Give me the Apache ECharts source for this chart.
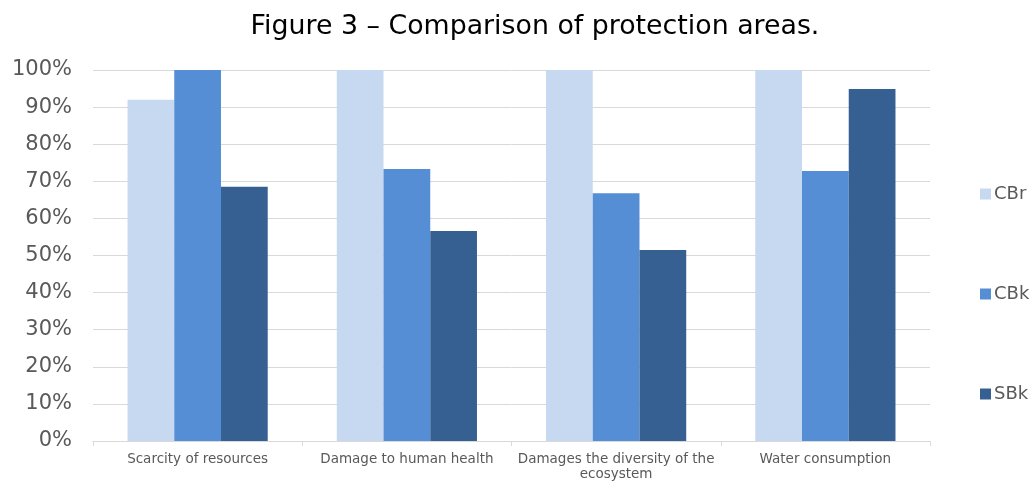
<!DOCTYPE html>
<html>
<head>
<meta charset="utf-8">
<script src="https://cdn.jsdelivr.net/npm/echarts@6/dist/echarts.min.js"></script>
<style>
  html, body { margin: 0; padding: 0; background: #fff; }
  #chart { width: 1032px; height: 482px; }
</style>
</head>
<body>
<div id="chart"></div>
<script>
const categories = ['Scarcity of resources', 'Damage to human health', 'Damages the diversity of the\necosystem', 'Water consumption']
const cbr = [92, 100, 100, 100]
const cbk = [100, 73.3, 66.8, 72.8]
const sbk = [68.5, 56.6, 51.5, 94.9]
const yTicks = [0, 10, 20, 30, 40, 50, 60, 70, 80, 90, 100]

const font = 'Verdana, "DejaVu Sans", sans-serif'

const chart = echarts.init(document.getElementById('chart'))

chart.setOption({
  animation: false,
  textStyle: { fontFamily: font },
  title: {
    text: 'Figure 3 – Comparison of protection areas.',
    left: 530,
    textAlign: 'center',
    top: 9,
    textStyle: { fontFamily: font, fontSize: 26.8, fontWeight: 'normal', color: '#000' }
  },
  legend: {
    orient: 'vertical',
    left: 975,
    top: 180,
    itemWidth: 11,
    itemHeight: 11,
    itemGap: 82,
    icon: 'rect',
    textStyle: { fontFamily: font, fontSize: 18, color: '#595959', padding: [0, 0, 0, -2] },
    data: ['CBr', 'CBk', 'SBk']
  },
  grid: { left: 93, right: 102, top: 70, bottom: 41, containLabel: false },
  xAxis: {
    type: 'category',
    data: categories,
    axisLine: { lineStyle: { color: '#D9D9D9', width: 1 } },
    axisTick: { show: true, alignWithLabel: false, length: 5, lineStyle: { color: '#D9D9D9' } },
    axisLabel: { fontFamily: font, fontSize: 13.5, color: '#595959', margin: 11, interval: 0, lineHeight: 15 }
  },
  yAxis: {
    type: 'value',
    min: 0,
    max: 100,
    interval: 10,
    axisLine: { show: false },
    axisTick: { show: false },
    splitLine: { lineStyle: { color: '#D9D9D9', width: 1 } },
    axisLabel: {
      fontFamily: font,
      fontSize: 21,
      color: '#595959',
      margin: 21,
      formatter: v => yTicks.includes(v) ? v + '%' : ''
    }
  },
  series: [
    { name: 'CBr', type: 'bar', data: cbr, barGap: '0%', barCategoryGap: '33%', itemStyle: { color: '#C6D9F1' } },
    { name: 'CBk', type: 'bar', data: cbk, itemStyle: { color: '#558ED5' } },
    { name: 'SBk', type: 'bar', data: sbk, itemStyle: { color: '#376092' } }
  ]
})
</script>
</body>
</html>
